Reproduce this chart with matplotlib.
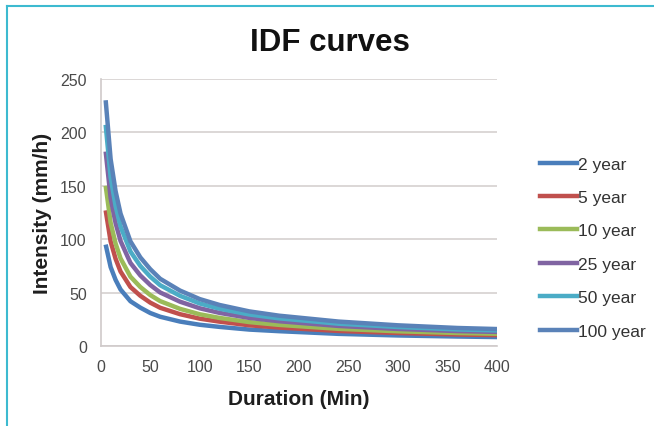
import matplotlib
matplotlib.use("Agg")
import matplotlib.pyplot as plt
from matplotlib.lines import Line2D

plt.rcParams['font.family'] = ['Liberation Sans', 'DejaVu Sans']

# durations in minutes
durations = [5, 10, 15, 20, 30, 40, 50, 60, 80, 100, 120, 150, 180, 240, 300, 360, 400]

# intensities (mm/h)
yr2 = [95, 74, 62, 53, 42, 36, 31, 27.5, 23, 20, 18, 15.5, 14, 11.5, 10, 9, 8.5]
yr5 = [127, 97.9, 81.7, 69.8, 55.3, 47.1, 40.7, 35.9, 29.9, 25.7, 22.9, 19.5, 17.4, 14.2, 12.3, 10.9, 10.3]
yr10 = [150, 115.4, 96, 82.1, 65, 55.3, 47.8, 42.1, 34.9, 29.8, 26.4, 22.5, 19.9, 16.2, 13.9, 12.3, 11.6]
yr25 = [182, 138.6, 115.1, 98.4, 77.8, 66.1, 57.2, 50.2, 41.6, 35.4, 31.1, 26.4, 23.3, 18.9, 16.1, 14.1, 13.3]
yr50 = [207, 157.8, 130.9, 111.9, 88.5, 75, 65, 57, 47.1, 39.9, 35, 29.6, 26, 21, 17.9, 15.6, 14.7]
yr100 = [230, 175, 145, 124, 98, 83, 72, 63, 52, 44, 38.5, 32.5, 28.5, 23, 19.5, 17, 16]

labels = ["2 year", "5 year", "10 year", "25 year", "50 year", "100 year"]
colors = ["#4a7ebb", "#c0504d", "#9bbb59", "#8064a2", "#4bacc6", "#5a82b8"]
series = [yr2, yr5, yr10, yr25, yr50, yr100]

fig = plt.figure(figsize=(6.54, 4.27), dpi=100)
ax = fig.add_axes([0.154, 0.187, 0.606, 0.626])

for s, c, lab in zip(series, colors, labels):
    ax.plot(durations, s, color=c, lw=3.2, label=lab, solid_capstyle='butt')

ax.set_xlim(0, 400)
ax.set_ylim(0, 250)
ax.set_xticks(range(0, 401, 50))
ax.set_yticks(range(0, 251, 50))
ax.tick_params(length=0, labelsize=11.5, colors="#4a4a4a")
ax.tick_params(axis='x', pad=9)
ax.tick_params(axis='y', pad=10)
ax.grid(axis='y', color="#d6d1d0", lw=1.2)
ax.set_axisbelow(True)
for sp in ["top", "right"]:
    ax.spines[sp].set_visible(False)
for sp in ["left", "bottom"]:
    ax.spines[sp].set_color("#cfcaca")
    ax.spines[sp].set_linewidth(1.2)

ax.set_xlabel("Duration (Min)", fontsize=15, fontweight="bold", color="#1e1e1e", labelpad=11)
ax.set_ylabel("Intensity (mm/h)", fontsize=15, fontweight="bold", color="#1e1e1e", labelpad=6)
fig.suptitle("IDF curves", x=0.505, y=0.935, fontsize=22.5, fontweight="bold", color="#111111")

handles = [Line2D([0], [0], color=c, lw=3.2) for c in colors]
fig.legend(handles, labels, loc="upper left", bbox_to_anchor=(0.826, 0.631),
           frameon=False, fontsize=12.5, labelcolor="#333333",
           handlelength=2.1, handletextpad=0.05, labelspacing=1.05,
           borderpad=0, borderaxespad=0)

# cyan frame lines at top and left
fig.add_artist(Line2D([0.011, 1.0], [0.984, 0.984], color="#3dbad0", lw=1.5))
fig.add_artist(Line2D([0.011, 0.011], [0.0, 0.984], color="#3dbad0", lw=1.5))

fig.savefig("out.png", dpi=100)
